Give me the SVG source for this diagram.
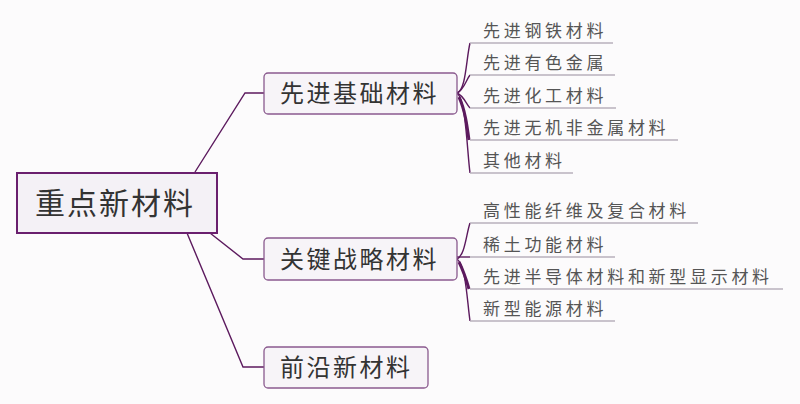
<svg xmlns="http://www.w3.org/2000/svg" width="800" height="404" viewBox="0 0 800 404">
<style>
.bg{fill:#fcfbfc}
.root{fill:#f4f1f6;stroke:#6a1f6e;stroke-width:2}
.br{fill:#f7f4f8;stroke:#8a5a8e;stroke-width:1.3}
.t{font-family:"Noto Sans CJK SC","Noto Sans CJK JP",sans-serif;fill:#333}
.rt{font-size:30px;letter-spacing:2px}
.bt{font-size:24px;letter-spacing:2.5px}
.lt{font-size:17px;letter-spacing:3.7px;fill:#555}
.ul{stroke:#b9b0bd;stroke-width:1.3;fill:none}
.c{stroke:#5c1a5e;stroke-width:1.4;fill:none}
.cb{stroke:#5c1a5e;stroke-width:3;fill:none}
</style>
<rect class="bg" x="0" y="0" width="800" height="404"/>
<g id="connectors">
<path class="c" d="M195,172 L245,93 L264,93"/>
<path class="c" d="M210,233 L243,259 L264,259"/>
<path class="c" d="M187,233 L243,367 L264,367"/>
<path class="c" d="M457,93 C466,90 466,60 470,43"/>
<path class="c" d="M457,93 C464,90 466,80 470,75"/>
<path class="c" d="M457,93 C464,96 466,104 470,108"/>
<path class="cb" d="M459,97 C465,110 467,125 469,140"/>
<path class="c" d="M457,93 C466,100 467,150 470,173"/>
<path class="c" d="M457,259 C465,255 466,235 470,223"/>
<path class="c" d="M457,257 L470,257"/>
<path class="cb" d="M459,262 C464,272 467,282 469,289"/>
<path class="c" d="M457,259 C466,266 467,300 470,321"/>
</g>
<g id="leaf-lines">
<line class="ul" x1="470" y1="43" x2="613" y2="43"/>
<line class="ul" x1="470" y1="75" x2="615" y2="75"/>
<line class="ul" x1="470" y1="108" x2="616" y2="108"/>
<line class="ul" x1="470" y1="140" x2="678" y2="140"/>
<line class="ul" x1="470" y1="173" x2="573" y2="173"/>
<line class="ul" x1="470" y1="223" x2="698" y2="223"/>
<line class="ul" x1="470" y1="257" x2="615" y2="257"/>
<line class="ul" x1="470" y1="289" x2="783" y2="289"/>
<line class="ul" x1="470" y1="321" x2="615" y2="321"/>
</g>
<g id="root">
<rect class="root" x="17" y="173" width="200" height="60"/>
<text class="t rt" x="35" y="214">重点新材料</text>
</g>
<g id="b1">
<rect class="br" x="264" y="73" width="193" height="41" rx="4"/>
<text class="t bt" x="280" y="102">先进基础材料</text>
</g>
<g id="b2">
<rect class="br" x="264" y="238" width="193" height="42" rx="4"/>
<text class="t bt" x="280" y="268">关键战略材料</text>
</g>
<g id="b3">
<rect class="br" x="264" y="347" width="164" height="41" rx="4"/>
<text class="t bt" x="280" y="376">前沿新材料</text>
</g>
<g id="l1"><text class="t lt" x="483" y="37">先进钢铁材料</text></g>
<g id="l2"><text class="t lt" x="483" y="69">先进有色金属</text></g>
<g id="l3"><text class="t lt" x="483" y="102">先进化工材料</text></g>
<g id="l4"><text class="t lt" x="483" y="134">先进无机非金属材料</text></g>
<g id="l5"><text class="t lt" x="483" y="167">其他材料</text></g>
<g id="l6"><text class="t lt" x="483" y="217">高性能纤维及复合材料</text></g>
<g id="l7"><text class="t lt" x="483" y="251">稀土功能材料</text></g>
<g id="l8"><text class="t lt" x="483" y="283">先进半导体材料和新型显示材料</text></g>
<g id="l9"><text class="t lt" x="483" y="315">新型能源材料</text></g>
</svg>
